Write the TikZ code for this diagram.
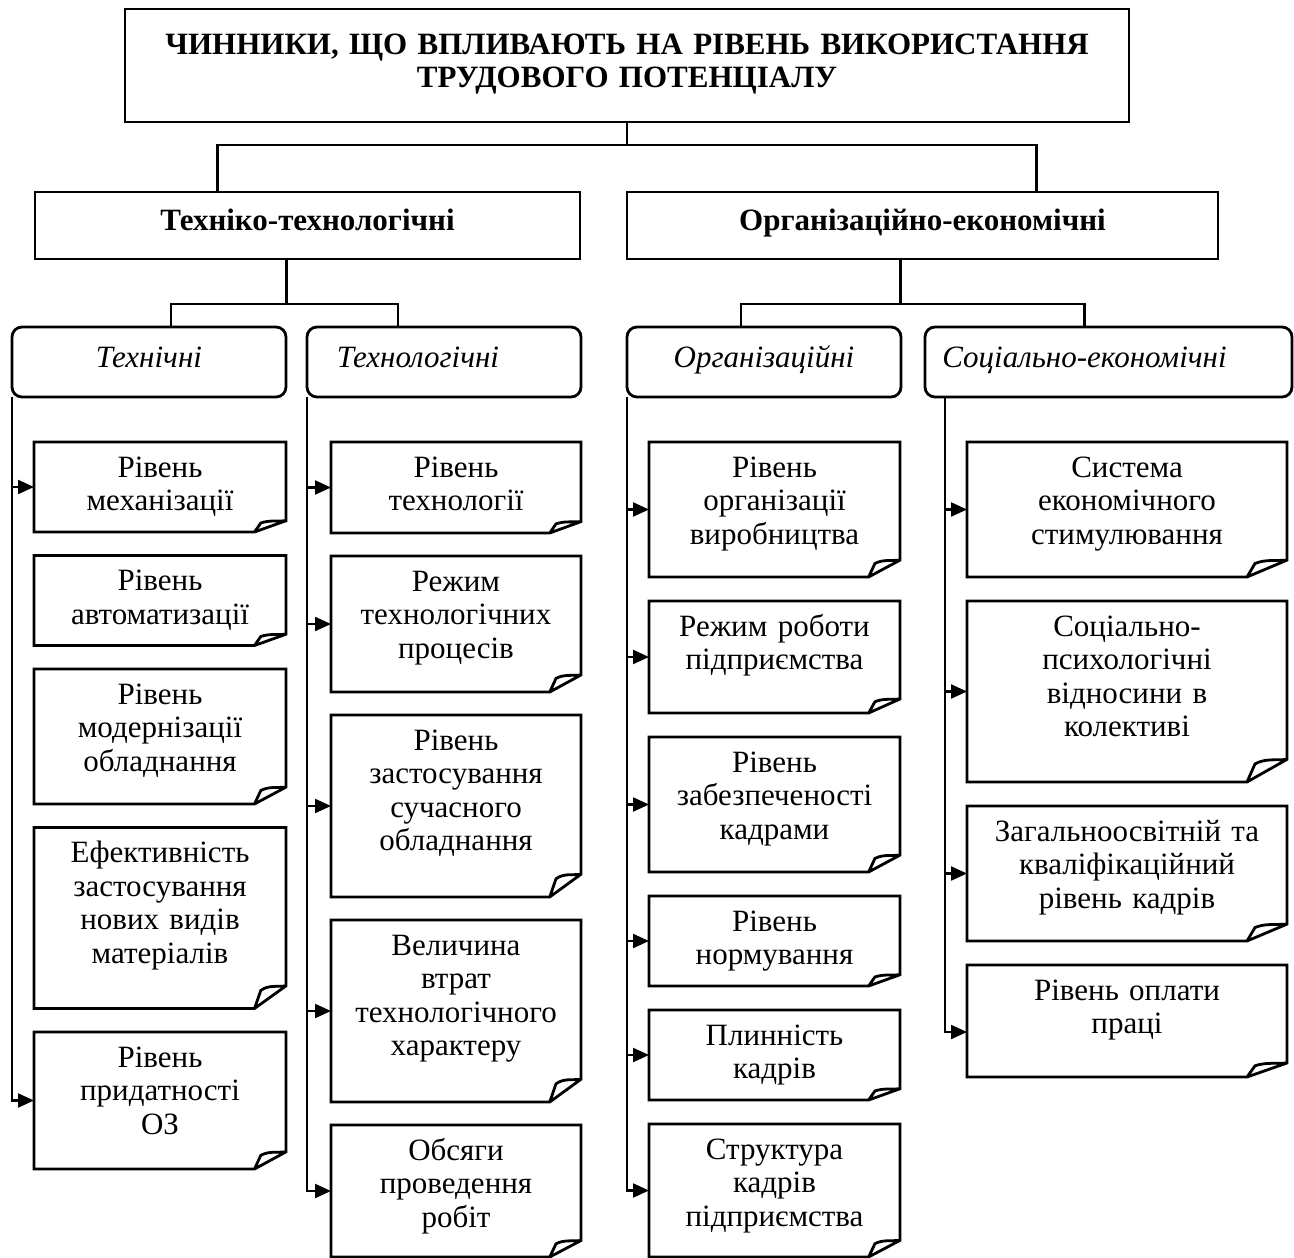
\documentclass[tikz,border=0pt]{standalone}
\usepackage{fontspec}
\setmainfont{Liberation Serif}
\usetikzlibrary{
  arrows.meta,
  positioning,
  calc
}
\tikzset{
  headbox/.style={draw,line width=2.8pt,inner xsep=0pt,inner ysep=0pt,outer sep=0pt,align=center,anchor=north west,font=\fontsize{31}{33}\selectfont\bfseries},
  groupbox/.style={draw,line width=2.8pt,rounded corners=10pt,inner xsep=0pt,inner ysep=0pt,outer sep=0pt,align=center,anchor=north west,text height=40pt,text depth=30pt,font=\fontsize{31}{33.5}\selectfont\itshape},
  leafbox/.style={inner xsep=0pt,inner ysep=0pt,outer sep=0pt,align=center,text height=35pt,font=\fontsize{31}{33.5}\selectfont},
  leafline/.style={line width=2.8pt,line join=miter},
  tree/.style={line width=2.2pt},
  feed/.style={line width=2.2pt,-{Triangle[length=16pt,width=14pt]}}
}

\begin{document}
\begin{tikzpicture}[x=1pt,y=-1pt,node distance=23.5pt]
\useasboundingbox (0,0) rectangle (1294,1258);

% top level
\node[headbox,text width=1004pt,text height=45pt,text depth=68pt] (title) at (125,9)
  {ЧИННИКИ, ЩО ВПЛИВАЮТЬ НА РІВЕНЬ ВИКОРИСТАННЯ\\ТРУДОВОГО ПОТЕНЦІАЛУ};

\node[headbox,text width=545pt,text height=38pt,text depth=29pt] (techgrp) at (35,192) {Техніко-технологічні};
\node[headbox,text width=591pt,text height=38pt,text depth=29pt] (orggrp) at (627,192) {Організаційно-економічні};

\node[groupbox,text width=274pt] (tech) at (12,327) {Технічні};
\node[groupbox,text width=274pt] (techn) at (307,327) {\hspace*{-52pt}Технологічні};
\node[groupbox,text width=274pt] (org) at (627,327) {Організаційні};
\node[groupbox,text width=367pt] (soc) at (925,327) {\hspace*{-48pt}Соціально-економічні};

% technical
\node[leafbox,text width=252pt,text depth=55pt,below right=45pt and 22pt of tech.south west] (a1) {Рівень\\механізації};
\node[leafbox,text width=252pt,text depth=55pt,below=of a1] (a2) {Рівень\\автоматизації};
\node[leafbox,text width=252pt,text depth=100pt,below=of a2] (a3) {Рівень\\модернізації\\обладнання};
\node[leafbox,text width=252pt,text depth=146pt,below=of a3] (a4) {Ефективність\\застосування\\нових видів\\матеріалів};
\node[leafbox,text width=252pt,text depth=102pt,below=of a4] (a5) {Рівень\\придатності\\ОЗ};

% technological
\node[leafbox,text width=250pt,text depth=56pt,below right=45pt and 24pt of techn.south west] (b1) {Рівень\\технології};
\node[leafbox,text width=250pt,text depth=101pt,below=23pt of b1] (b2) {Режим\\технологічних\\процесів};
\node[leafbox,text width=250pt,text depth=147pt,below=23pt of b2] (b3) {Рівень\\застосування\\сучасного\\обладнання};
\node[leafbox,text width=250pt,text depth=147pt,below=23pt of b3] (b4) {Величина\\втрат\\технологічного\\характеру};
\node[leafbox,text width=250pt,text depth=97pt,below=23pt of b4] (b5) {Обсяги\\проведення\\робіт};

% organisational
\node[leafbox,text width=251pt,text depth=100pt,below right=45pt and 22pt of org.south west] (c1) {Рівень\\організації\\виробництва};
\node[leafbox,text width=251pt,text depth=77pt,below=24pt of c1] (c2) {Режим роботи\\підприємства};
\node[leafbox,text width=251pt,text depth=100pt,below=24pt of c2] (c3) {Рівень\\забезпеченості\\кадрами};
\node[leafbox,text width=251pt,text depth=55pt,below=24pt of c3] (c4) {Рівень\\нормування};
\node[leafbox,text width=251pt,text depth=55pt,below=24pt of c4] (c5) {Плинність\\кадрів};
\node[leafbox,text width=251pt,text depth=98pt,below=24pt of c5] (c6) {Структура\\кадрів\\підприємства};

% socio-economic
\node[leafbox,text width=320pt,text depth=100pt,below right=45pt and 42pt of soc.south west] (d1) {Система\\економічного\\стимулювання};
\node[leafbox,text width=320pt,text depth=146pt,below=24pt of d1] (d2) {Соціально-\\психологічні\\відносини в\\колективі};
\node[leafbox,text width=320pt,text depth=100pt,below=24pt of d2] (d3) {Загальноосвітній та\\кваліфікаційний\\рівень кадрів};
\node[leafbox,text width=320pt,text depth=77pt,below=24pt of d3] (d4) {Рівень оплати\\праці};

% folded-corner outlines
\foreach \b in {a1,a2,a3,a4,a5,b1,b2,b3,b4,b5,c1,c2,c3,c4,c5,c6,d1,d2,d3,d4}{
  \draw[leafline] let \p1=(\b.north west), \p2=(\b.south east),
      \n1={0.125*(\x2-\x1)}, \n2={0.125*(\y1-\y2)} in
    (\x1,\y1) -- (\x2,\y1) -- (\x2,\y2+\n2) -- (\x2-\n1,\y2) -- (\x1,\y2) -- cycle
    (\x2-\n1,\y2) -- (\x2-0.8*\n1,\y2+0.8*\n2)
      .. controls (\x2-0.55*\n1,\y2+1.05*\n2) and (\x2-0.3*\n1,\y2+0.95*\n2) .. (\x2,\y2+\n2);
}

% tree
\draw[tree] (title.south) -- ++(0,23) -| ([xshift=-90pt]techgrp.north);
\draw[tree] (title.south) -- ++(0,23) -| ([xshift=114pt]orggrp.north);
\draw[tree] ([xshift=-21pt]techgrp.south) -- ++(0,45) -| ([xshift=22pt]tech.north);
\draw[tree] ([xshift=-21pt]techgrp.south) -- ++(0,45) -| ([xshift=-46pt]techn.north);
\draw[tree] ([xshift=-22pt]orggrp.south) -- ++(0,45) -| ([xshift=-23pt]org.north);
\draw[tree] ([xshift=-22pt]orggrp.south) -- ++(0,45) -| ([xshift=-24pt]soc.north);

% feeders
\draw[feed] (tech.south west) |- (a1.west);
\draw[feed] (tech.south west) |- (a5.west);
\foreach \b in {b1,b2,b3,b4,b5}
  \draw[feed] (techn.south west) |- (\b.west);
\foreach \b in {c1,c2,c3,c4,c5,c6}
  \draw[feed] (org.south west) |- (\b.west);
\foreach \b in {d1,d2,d3}
  \draw[feed] ([xshift=20pt]soc.south west) |- (\b.west);
\draw[feed] ([xshift=20pt]soc.south west) |- ([yshift=-11pt]d4.west);
\end{tikzpicture}
\end{document}
